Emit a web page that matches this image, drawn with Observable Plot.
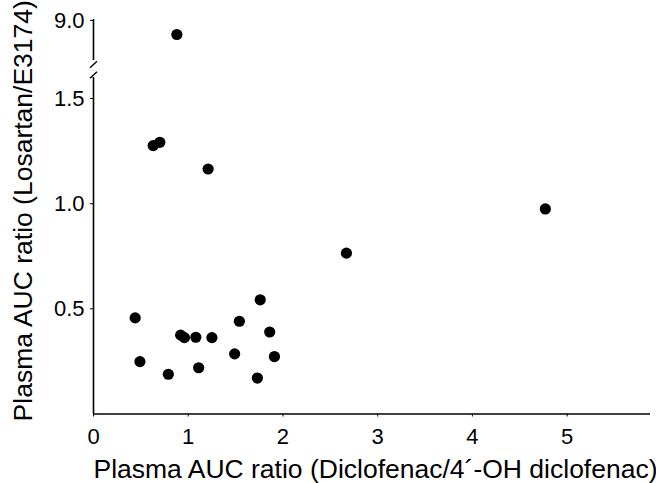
<!DOCTYPE html>
<html>
<head>
<meta charset="utf-8">
<script src="https://cdn.jsdelivr.net/npm/d3@7"></script>
<script src="https://cdn.jsdelivr.net/npm/@observablehq/plot@0.6"></script>
<style>
  html, body { margin: 0; padding: 0; background: #fff; }
  #chart { position: relative; width: 656px; height: 483px; }
  #chart svg { position: absolute; left: 0; top: 0; }
</style>
</head>
<body>
<div id="chart"></div>
<script>
// Data
const diclofenacRatio = [0.63, 0.70, 1.21, 2.67, 1.76, 0.44, 1.54, 1.86, 0.92, 0.96, 1.08, 1.25, 1.49, 1.91, 0.49, 1.11, 0.79, 1.73, 4.77, 0.88];
const losartanRatio   = [1.276, 1.292, 1.165, 0.765, 0.543, 0.457, 0.441, 0.390, 0.375, 0.363, 0.365, 0.363, 0.286, 0.273, 0.249, 0.220, 0.189, 0.171, 0.975, 8.93];

const xTicks = [0, 1, 2, 3, 4, 5];
const yTicksLower = [0.5, 1.0, 1.5];
const yTicksUpper = [9.0];
const xLabel = "Plasma AUC ratio (Diclofenac/4´-OH diclofenac)";
const yLabel = "Plasma AUC ratio (Losartan/E3174)";

// Broken y axis: lower segment 0–1.6, upper segment 8.8–9.0
const xMax = 5.88;
const lowerDomain = [0, 1.6];
const upperDomain = [8.8, 9.005];

const W = 656, H = 483;
const mL = 93, mR = 6;
const lowerTop = 77, lowerBottom = 413.5;
const upperTop = 19, upperBottom = 60, upperH = 70;

const points = diclofenacRatio.map((x, i) => ({x, y: losartanRatio[i]}));
const lowerPts = points.filter(d => d.y <= lowerDomain[1]);
const upperPts = points.filter(d => d.y >= upperDomain[0]);

const font = "Liberation Sans, Arial, Helvetica, sans-serif";
const style = {fontFamily: font, fontSize: "22px", color: "black", background: "transparent", overflow: "visible"};

// break slashes across the y axis, in data units of each segment
const xS = d3.scaleLinear().domain([0, xMax]).range([mL, W - mR]);
const yLo = d3.scaleLinear().domain(lowerDomain).range([lowerBottom, lowerTop]);
const yUp = d3.scaleLinear().domain(upperDomain).range([upperBottom, upperTop]);
const slash = (ys, cy) => [{
  x1: xS.invert(mL - 3.5), x2: xS.invert(mL + 3.5),
  y1: ys.invert(cy + 3.3), y2: ys.invert(cy - 3.3)
}];

const lower = Plot.plot({
  width: W, height: H,
  marginLeft: mL, marginRight: mR, marginTop: lowerTop, marginBottom: H - lowerBottom,
  style,
  x: {domain: [0, xMax]},
  y: {domain: lowerDomain},
  marks: [
    Plot.axisX({ticks: xTicks, tickFormat: d3.format("d"), tickSize: 3, tickPadding: 11, fontSize: 22, label: null}),
    Plot.axisY({ticks: yTicksLower, tickFormat: d3.format(".1f"), tickSize: 3, tickPadding: 6, fontSize: 22, label: null}),
    Plot.ruleY([0], {stroke: "black", strokeWidth: 1.6}),
    Plot.ruleX([0], {y1: lowerDomain[0], y2: lowerDomain[1], stroke: "black", strokeWidth: 1.6}),
    Plot.link(slash(yLo, lowerTop - 2.5), {x1: "x1", x2: "x2", y1: "y1", y2: "y2", stroke: "black", strokeWidth: 1.4}),
    Plot.dot(lowerPts, {x: "x", y: "y", r: 5.6, fill: "black", stroke: "none"}),
    Plot.text([xLabel], {frameAnchor: "bottom", textAnchor: "middle", lineAnchor: "middle", dy: 56, dx: 3.5, fontSize: 26.5, fill: "black"}),
    Plot.text([yLabel], {frameAnchor: "left", textAnchor: "middle", lineAnchor: "middle", dx: -70, dy: -35, rotate: -90, fontSize: 26.5, fill: "black"})
  ]
});

const upper = Plot.plot({
  width: W, height: upperH,
  marginLeft: mL, marginRight: mR, marginTop: upperTop, marginBottom: upperH - upperBottom,
  style,
  x: {domain: [0, xMax], axis: null},
  y: {domain: upperDomain},
  marks: [
    Plot.axisY({ticks: yTicksUpper, tickFormat: d3.format(".1f"), tickSize: 3, tickPadding: 6, fontSize: 22, label: null}),
    Plot.ruleX([0], {y1: upperDomain[0], y2: upperDomain[1], stroke: "black", strokeWidth: 1.6}),
    Plot.link(slash(yUp, upperBottom + 4), {x1: "x1", x2: "x2", y1: "y1", y2: "y2", stroke: "black", strokeWidth: 1.4}),
    Plot.dot(upperPts, {x: "x", y: "y", r: 5.6, fill: "black", stroke: "none"})
  ]
});

const root = document.getElementById("chart");
root.appendChild(lower);
root.appendChild(upper);
</script>
</body>
</html>
